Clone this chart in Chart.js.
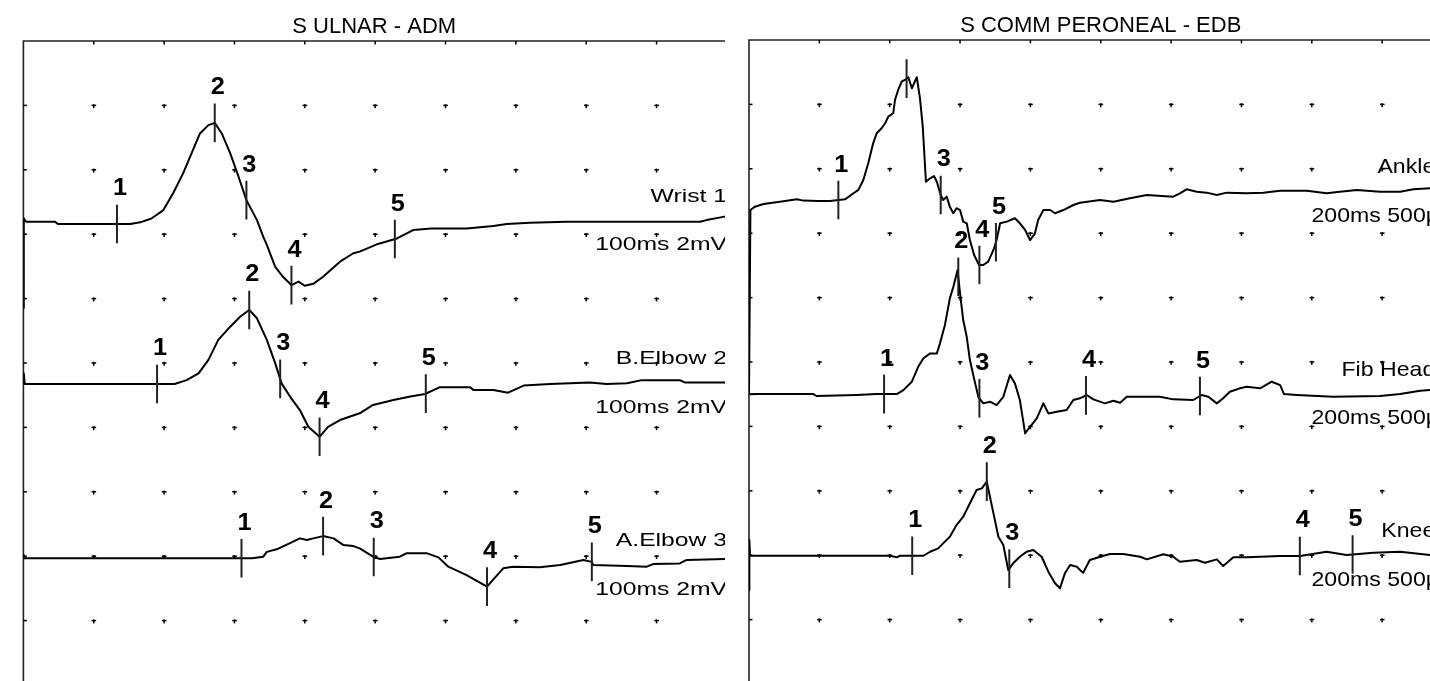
<!DOCTYPE html>
<html lang="en">
<head>
<meta charset="UTF-8">
<title>Nerve Conduction Traces</title>
<script src="https://cdn.jsdelivr.net/npm/chart.js"></script>
<style>
    html, body { margin: 0; padding: 0; background: #fff; overflow: hidden; }
    #wrap { position: relative; width: 1430px; height: 681px; overflow: hidden; }
    canvas { position: absolute; top: 0; }
    #ulnar { left: 0; }
    #peroneal { left: 737px; }
</style>
</head>
<body>
<div id="wrap">
    <canvas id="ulnar" width="737" height="681"></canvas>
    <canvas id="peroneal" width="730" height="681"></canvas>
</div>

<script>
// ulnar traces: [time ms, amplitude mV]
const wrist = [[0,-2.67],[0.005,0.12],[0.02,0.06],[0.04,0.01],[0.45,0.01],[0.49,-0.06],[1.52,-0.06],[1.66,-0.01],[1.82,0.11],[1.99,0.37],[2.13,0.90],[2.27,1.51],[2.39,2.13],[2.51,2.75],[2.63,3.01],[2.72,3.08],[2.82,2.75],[2.94,2.13],[3.05,1.46],[3.17,0.68],[3.32,0.06],[3.41,-0.46],[3.46,-0.71],[3.58,-1.39],[3.69,-1.70],[3.81,-1.96],[3.91,-1.85],[4.00,-1.98],[4.12,-1.92],[4.26,-1.70],[4.50,-1.23],[4.69,-0.97],[4.78,-0.92],[5.04,-0.68],[5.31,-0.51],[5.54,-0.25],[5.80,-0.20],[6.30,-0.20],[6.68,-0.12],[6.87,-0.06],[7.20,-0.02],[7.72,0.01],[9.62,0.01],[9.71,0.06],[9.95,0.16],[10,0.18]];
const bElbow = [[0,0],[0.005,0.33],[0.02,0],[2.15,0],[2.32,0.12],[2.49,0.33],[2.63,0.75],[2.77,1.37],[2.94,1.78],[3.08,2.09],[3.21,2.30],[3.32,2.04],[3.46,1.37],[3.58,0.64],[3.67,0.02],[3.79,-0.39],[3.93,-0.81],[4.05,-1.33],[4.21,-1.64],[4.33,-1.33],[4.50,-1.12],[4.78,-0.91],[4.97,-0.65],[5.26,-0.50],[5.50,-0.39],[5.71,-0.31],[5.92,-0.10],[6.35,-0.10],[6.40,-0.19],[6.68,-0.19],[6.89,-0.27],[7.11,-0.05],[7.49,0],[8.05,0.05],[8.29,0],[8.58,0.02],[8.79,0.12],[9.33,0.12],[9.40,0.05],[10,0.05]];
const aElbow = [[0,0],[0.005,0.10],[0.02,0],[3.25,0],[3.41,0.05],[3.46,0.20],[3.60,0.28],[3.79,0.47],[3.93,0.62],[4.03,0.57],[4.12,0.62],[4.26,0.69],[4.41,0.62],[4.55,0.41],[4.69,0.38],[4.78,0.31],[4.97,0.05],[5.07,-0.02],[5.35,0.05],[5.45,0.16],[5.73,0.16],[5.90,0.03],[6.04,-0.26],[6.30,-0.52],[6.59,-0.88],[6.82,-0.31],[6.96,-0.26],[7.34,-0.28],[7.63,-0.21],[7.96,-0.05],[8.08,-0.11],[8.10,-0.21],[8.58,-0.24],[8.86,-0.26],[8.95,-0.18],[9.33,-0.16],[9.43,-0.05],[10,-0.02]];

// peroneal traces: [time ms, amplitude uV]
const ankle = [[0,-1500],[0.04,-78],[0.17,-52],[0.41,-31],[0.88,-13],[1.36,5],[1.54,-5],[1.97,-8],[2.30,-8],[2.73,5],[2.97,52],[3.11,78],[3.25,155],[3.39,285],[3.53,440],[3.63,518],[3.77,557],[3.87,596],[3.96,647],[4.10,673],[4.15,776],[4.24,854],[4.34,918],[4.43,932],[4.53,953],[4.63,867],[4.77,953],[4.86,790],[4.94,569],[5.03,142],[5.15,168],[5.26,186],[5.34,142],[5.45,39],[5.52,0],[5.62,26],[5.71,-52],[5.81,-103],[5.90,-64],[6.00,-78],[6.09,-168],[6.19,-181],[6.28,-311],[6.40,-427],[6.54,-505],[6.66,-505],[6.80,-479],[6.95,-388],[7.04,-311],[7.14,-181],[7.33,-168],[7.56,-142],[7.70,-181],[7.85,-233],[7.99,-311],[8.13,-259],[8.22,-155],[8.37,-78],[8.56,-78],[8.70,-103],[8.94,-78],[9.22,-39],[9.41,-21],[9.98,0],[10.36,-13],[10.83,13],[11.31,39],[12.06,26],[12.25,52],[12.44,83],[12.73,64],[13.01,57],[13.30,39],[13.58,57],[14.15,52],[14.62,57],[15.10,72],[15.86,72],[16.42,52],[16.80,64],[17.28,78],[17.94,64],[18.51,64],[18.89,83],[19.36,91],[20,93]];
const fibHead = [[0,0],[0.22,2],[1.83,2],[1.92,-13],[3.06,-5],[3.63,2],[4.20,2],[4.39,33],[4.63,98],[4.81,214],[4.96,280],[5.15,318],[5.34,318],[5.43,396],[5.57,538],[5.71,745],[5.81,835],[5.93,965],[6.00,784],[6.09,577],[6.19,447],[6.28,266],[6.43,85],[6.52,-19],[6.66,-70],[6.85,-57],[7.04,-83],[7.23,-19],[7.42,150],[7.56,85],[7.70,-44],[7.85,-303],[7.99,-252],[8.18,-186],[8.37,-70],[8.51,-148],[8.75,-135],[9.03,-122],[9.22,-44],[9.41,-31],[9.60,-5],[9.79,-39],[10.12,-70],[10.36,-50],[10.55,-65],[10.74,-19],[11.68,-19],[12.06,-39],[12.63,-44],[12.87,-5],[13.06,-19],[13.30,-70],[13.48,-31],[13.67,20],[13.96,47],[14.15,59],[14.53,47],[14.86,98],[15.10,72],[15.21,2],[15.57,-5],[16.61,-19],[17.94,-13],[18.51,2],[19.08,28],[19.36,33],[20,41]];
const knee = [[0,-266],[0.01,122],[0.03,0],[4.01,0],[4.20,-12],[4.29,0],[4.96,0],[5.15,31],[5.38,57],[5.52,96],[5.71,148],[5.90,238],[6.09,303],[6.28,407],[6.47,510],[6.62,523],[6.76,575],[6.85,458],[6.95,329],[7.09,148],[7.23,83],[7.37,-111],[7.51,-59],[7.70,-8],[7.89,31],[8.08,44],[8.32,-8],[8.51,-124],[8.70,-214],[8.84,-253],[8.98,-137],[9.13,-72],[9.32,-85],[9.41,-111],[9.50,-132],[9.69,-33],[9.98,-8],[10.26,13],[10.64,13],[11.12,-8],[11.31,-28],[11.78,11],[12.06,-8],[12.25,-47],[12.73,-33],[12.96,-54],[13.30,-28],[13.48,-80],[13.77,-12],[14.15,-12],[14.53,-8],[15.10,-2],[15.67,-2],[16.42,31],[16.99,5],[17.75,23],[18.51,31],[19.36,5],[20,5]];

// cursor times (ms) for markers 1..5
const wristMarks = [1.33, 2.72, 3.17, 3.81, 5.28];
const bElbowMarks = [1.90, 3.21, 3.65, 4.21, 5.72];
const aElbowMarks = [3.10, 4.26, 4.98, 6.59, 8.08];
const ankleMarks = [2.54, 4.48, 5.45, 6.55, 7.02];
const fibHeadMarks = [3.84, 5.95, 6.55, 9.58, 12.82];
const kneeMarks = [4.64, 6.76, 7.40, 15.66, 17.16];

const panels = [
    {
        canvas: 'ulnar', title: 'S ULNAR - ADM', scaleText: '100ms 2mV',
        msPerDiv: 1, perDiv: 2, xMax: 9.973, rows: 9.938,
        padding: { left: 23.4, top: 41, right: 12, bottom: 0 },
        fontPx: 19, stretch: 1.3,
        traces: [
            { name: 'Wrist 1', points: wrist, marks: wristMarks, level: 2.811 },
            { name: 'B.Elbow 2', points: bElbow, marks: bElbowMarks, level: 5.326 },
            { name: 'A.Elbow 3', points: aElbow, marks: aElbowMarks, level: 8.033 }
        ]
    },
    {
        canvas: 'peroneal', title: 'S COMM PERONEAL - EDB', scaleText: '200ms 500\u00b5V',
        msPerDiv: 2, perDiv: 500, xMax: 20, rows: 9.953,
        padding: { left: 12, top: 40, right: 14.5, bottom: 0 },
        fontPx: 21, stretch: 1.1,
        traces: [
            { name: 'Ankle 1', points: ankle, marks: ankleMarks, level: 2.484 },
            { name: 'Fib Head 2', points: fibHead, marks: fibHeadMarks, level: 5.502 },
            { name: 'Knee 3', points: knee, marks: kneeMarks, level: 8.008 }
        ]
    }
];

function valueAt(points, t) {
    for (let i = 1; i < points.length; i++) {
        if (points[i][0] >= t) {
            const [t0, v0] = points[i - 1];
            const [t1, v1] = points[i];
            return t1 === t0 ? v1 : v0 + (v1 - v0) * (t - t0) / (t1 - t0);
        }
    }
    return points[points.length - 1][1];
}

function stretchText(ctx, text, x, y, align, sx) {
    ctx.save();
    ctx.translate(x, y);
    ctx.scale(sx, 1);
    ctx.textAlign = align;
    ctx.fillText(text, 0, 0);
    ctx.restore();
}

function panelPlugin(panel) {
    return {
        id: 'emgPanel',
        beforeDatasetsDraw(chart) {
            const { ctx, chartArea: a, scales: { x, y } } = chart;
            ctx.save();
            ctx.strokeStyle = '#222';
            ctx.lineWidth = 1.6;
            ctx.beginPath();
            ctx.moveTo(a.left, a.bottom);
            ctx.lineTo(a.left, a.top);
            ctx.lineTo(a.right, a.top);
            ctx.stroke();

            // division ticks on the frame and "+" marks inside
            ctx.fillStyle = '#000';
            for (let j = 1; j < 10; j++) {
                const py = y.getPixelForValue(j);
                if (py < a.bottom) ctx.fillRect(a.left, py - 0.75, 3.5, 1.5);
            }
            for (let i = 1; i < 10; i++) {
                const px = x.getPixelForValue(i * panel.msPerDiv);
                if (px > a.right) continue;
                ctx.fillRect(px - 0.75, a.top, 1.5, 3.5);
                for (let j = 1; j < 10; j++) {
                    const py = y.getPixelForValue(j);
                    if (py > a.bottom) continue;
                    ctx.fillRect(px - 2.2, py - 0.75, 4.6, 1.5);
                    ctx.fillRect(px - 0.75, py - 1.2, 1.5, 4);
                }
            }
            ctx.restore();
        },
        afterDatasetsDraw(chart) {
            const { ctx, chartArea: a, scales: { x, y } } = chart;
            const toPx = (tr, v) => y.getPixelForValue(tr.level - v / panel.perDiv);

            ctx.save();
            ctx.fillStyle = '#000';
            ctx.font = '22px "Liberation Sans", Arial, sans-serif';
            ctx.textAlign = 'center';
            ctx.fillText(panel.title, (a.left + a.right) / 2, a.top - 8);

            ctx.beginPath();
            ctx.rect(a.left - 2, 0, a.right - a.left + 2, a.bottom);
            ctx.clip();

            panel.traces.forEach(tr => {
                // cursors
                tr.marks.forEach((t, k) => {
                    const px = x.getPixelForValue(t);
                    const py = toPx(tr, valueAt(tr.points, t));
                    ctx.strokeStyle = '#222';
                    ctx.lineWidth = 2;
                    ctx.beginPath();
                    ctx.moveTo(px, py - 19.3);
                    ctx.lineTo(px, py + 19.3);
                    ctx.stroke();
                    const base = py - 28.5;
                    if (base - 16 > a.top) {
                        ctx.fillStyle = '#000';
                        ctx.font = 'bold 23px "Liberation Sans", Arial, sans-serif';
                        stretchText(ctx, String(k + 1), px + 3, base, 'center', 1.1);
                    }
                });

                // trace name and sweep/sensitivity text
                const tail = tr.points.filter(p => p[0] >= panel.xMax * 0.85);
                const mean = tail.reduce((s, p) => s + p[1], 0) / tail.length;
                const lvl = toPx(tr, mean);
                const cap = panel.fontPx * 0.716 / 2;
                ctx.fillStyle = '#000';
                ctx.font = panel.fontPx + 'px "Liberation Sans", Arial, sans-serif';
                stretchText(ctx, tr.name, a.right + 2, lvl - 24 + cap, 'right', panel.stretch);
                stretchText(ctx, panel.scaleText, a.right + 2, lvl + 24.5 + cap, 'right', panel.stretch);
            });
            ctx.restore();
        }
    };
}

panels.forEach(panel => {
    const datasets = panel.traces.map(tr => ({
        data: tr.points.map(([t, v]) => ({ x: t, y: tr.level - v / panel.perDiv })),
        borderColor: '#000',
        borderWidth: 2,
        borderJoinStyle: 'round',
        pointRadius: 0,
        tension: 0,
        fill: false
    }));

    new Chart(document.getElementById(panel.canvas), {
        type: 'line',
        data: { datasets },
        options: {
            responsive: false,
            animation: false,
            devicePixelRatio: 1,
            events: [],
            layout: { padding: panel.padding },
            scales: {
                x: { type: 'linear', min: 0, max: panel.xMax, display: false },
                y: { type: 'linear', min: 0, max: panel.rows, reverse: true, display: false }
            },
            plugins: {
                legend: { display: false },
                tooltip: { enabled: false },
                title: { display: false }
            }
        },
        plugins: [panelPlugin(panel)]
    });
});
</script>
</body>
</html>
